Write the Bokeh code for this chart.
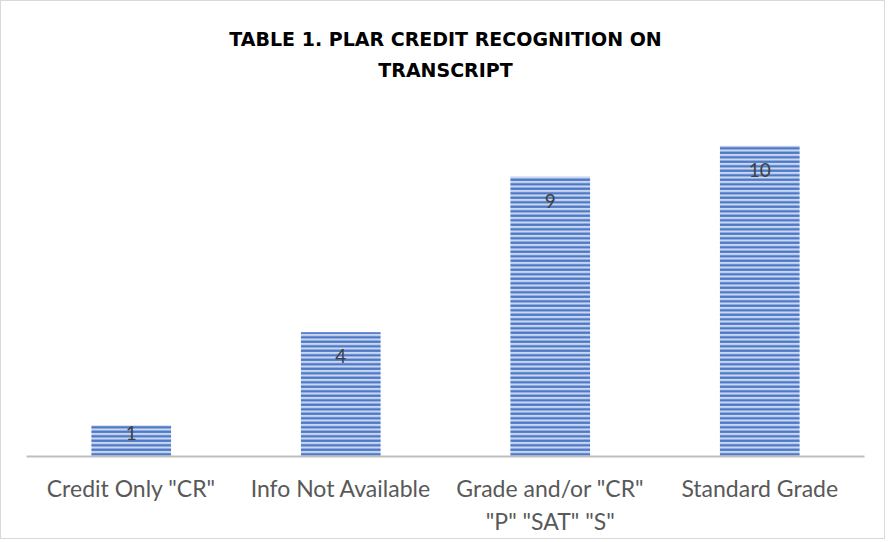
from bokeh.plotting import figure
from bokeh.models import ColumnDataSource, FactorRange, Range1d, LabelSet, Title
from bokeh.core.properties import value
from bokeh.embed import file_html
from bokeh.resources import INLINE

categories = ['Credit Only "CR"', 'Info Not Available', 'Grade and/or "CR"\n"P" "SAT" "S"', 'Standard Grade']
values = [1, 4, 9, 10]
labels = [str(v) for v in values]

FRAME_H = 373
Y_MAX = 12
PX_PER_UNIT = FRAME_H / Y_MAX
offsets = [-min(24, 0.25 * v * PX_PER_UNIT) for v in values]

src = ColumnDataSource(dict(cat=categories, val=values, lab=labels, off=offsets))

p = figure(frame_width=838, frame_height=FRAME_H, x_range=FactorRange(*categories),
           y_range=Range1d(0, Y_MAX),
           output_backend="svg", toolbar_location=None,
           min_border_left=25, min_border_right=20, min_border_top=82, min_border_bottom=10)
p.styles = {"border": "1px solid #d9d9d9"}
p.outline_line_color = None
p.xgrid.grid_line_color = None
p.ygrid.grid_line_color = None
p.yaxis.visible = False
p.x_range.range_padding = 0
p.x_range.group_padding = 0

p.vbar(x="cat", top="val", width=0.38, source=src,
       fill_color="#c9d6f0", line_color=None,
       hatch_pattern="horizontal_line", hatch_color="#4472c4",
       hatch_scale=4.5, hatch_weight=2.2)

p.add_layout(LabelSet(x="cat", y="val", text="lab", source=src, y_offset="off",
                      text_align="center", text_baseline="middle",
                      text_font=value("Lato"), text_font_size=value("19px"),
                      text_color="#404040"))

ax = p.xaxis[0]
ax.axis_line_color = "#bfbfbf"
ax.axis_line_width = 2
ax.major_tick_line_color = None
ax.minor_tick_line_color = None
ax.major_label_standoff = 11
ax.major_label_text_font = "Lato"
ax.major_label_text_font_size = "23px"
ax.major_label_text_color = "#595959"

t2 = Title(text="TRANSCRIPT", align="center", text_font="DejaVu Sans",
           text_font_size="19px", text_font_style="bold", text_color="#000000", offset=0, standoff=6)
t1 = Title(text="TABLE 1. PLAR CREDIT RECOGNITION ON", align="center", text_font="DejaVu Sans",
           text_font_size="19px", text_font_style="bold", text_color="#000000", offset=0, standoff=8)
p.add_layout(t2, "above")
p.add_layout(t1, "above")

open("out.html", "w").write(file_html(p, INLINE))
